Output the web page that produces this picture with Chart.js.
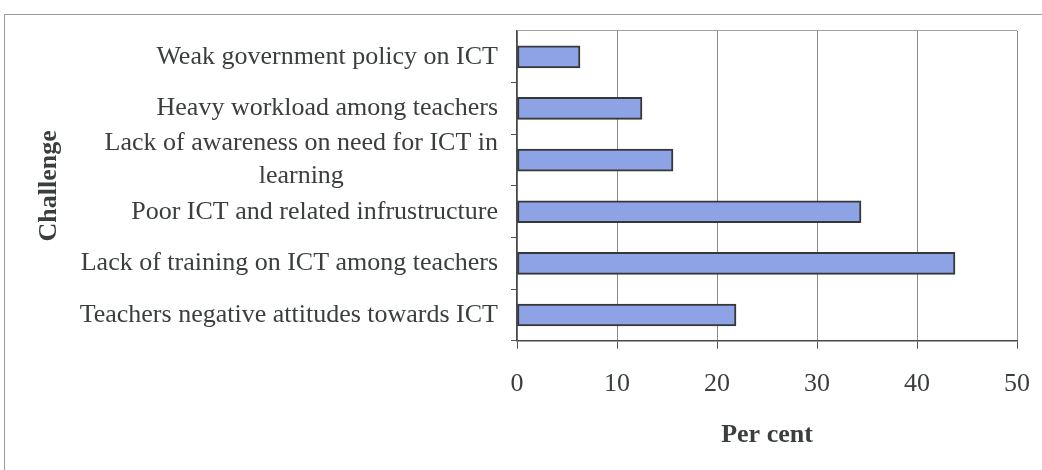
<!DOCTYPE html>
<html>
<head>
<meta charset="utf-8">
<title>Challenges</title>
<script src="https://cdn.jsdelivr.net/npm/chart.js@4.4.1/dist/chart.umd.min.js"></script>
<style>
  body { margin: 0; background: #fff; }
  canvas { display: block; }
</style>
</head>
<body>
<canvas id="barChart" width="1042" height="470"></canvas>
<script>
// chart data
const challenges = [
  "Weak government policy on ICT",
  "Heavy workload among teachers",
  ["Lack of awareness on need for ICT in", "learning"],
  "Poor ICT and related infrustructure",
  "Lack of training on ICT among teachers",
  "Teachers negative attitudes towards ICT",
];
const percents = [6.3, 12.5, 15.6, 34.4, 43.8, 21.9];
const xTicks = [0, 10, 20, 30, 40, 50];

const textColor = "#3a3e3e";
const serif = '"Liberation Serif", "Times New Roman", serif';

// white page with the grey frame round the chart
const frame = {
  id: "frame",
  beforeDraw(chart) {
    const ctx = chart.ctx;
    ctx.save();
    ctx.fillStyle = "#fff";
    ctx.fillRect(0, 0, chart.width, chart.height);
    ctx.strokeStyle = "#9a9a9a";
    ctx.lineWidth = 1;
    ctx.strokeRect(4.5, 14.5, chart.width + 20, chart.height + 20);
    ctx.restore();
  },
};

// category labels: block right aligned, each line centred (like Excel)
const centeredLabels = {
  id: "centeredLabels",
  afterDraw(chart) {
    const ctx = chart.ctx;
    const y = chart.scales.y;
    const lineH = 33;
    ctx.save();
    ctx.font = "26px " + serif;
    ctx.fillStyle = textColor;
    ctx.textAlign = "center";
    ctx.textBaseline = "middle";
    challenges.forEach((lab, i) => {
      const lines = [].concat(lab);
      const w = Math.max(...lines.map((l) => ctx.measureText(l).width));
      const cx = y.right - 19 - w / 2;
      const cy = y.getPixelForValue(i);
      lines.forEach((l, j) => {
        ctx.fillText(l, cx, cy + (j - (lines.length - 1) / 2) * lineH);
      });
    });
    ctx.restore();
  },
};

new Chart(document.getElementById("barChart"), {
  type: "bar",
  data: {
    labels: challenges,
    datasets: [
      {
        data: percents,
        backgroundColor: "#8ea2e6",
        borderColor: "#363838",
        borderWidth: 2,
        borderSkipped: false,
        barThickness: 22,
      },
    ],
  },
  options: {
    indexAxis: "y",
    responsive: false,
    animation: false,
    layout: { padding: { left: 30, top: 31, right: 25, bottom: 19 } },
    plugins: {
      legend: { display: false },
      tooltip: { enabled: false },
    },
    scales: {
      x: {
        min: 0,
        max: 50,
        afterBuildTicks: (scale) => {
          scale.ticks = xTicks.map((v) => ({ value: v }));
        },
        grid: { color: "#8a8a8a", tickColor: "#555", tickLength: 8, lineWidth: 1 },
        border: { color: "#4a4a4a", width: 1.5 },
        ticks: {
          color: textColor,
          font: { family: serif, size: 26, lineHeight: "47px" },
          padding: 12,
        },
        title: {
          display: true,
          text: "Per cent",
          color: textColor,
          font: { family: serif, size: 26, weight: "bold" },
          padding: { top: 0, bottom: 0 },
        },
      },
      y: {
        afterFit: (scale) => {
          scale.width = 487;
        },
        grid: {
          color: (c) => (c.index === 0 ? "#a0a0a0" : "transparent"),
          tickColor: (c) => (c.index === 0 ? "transparent" : "#555"),
          tickLength: 6,
        },
        border: { color: "#4a4a4a", width: 1.5 },
        ticks: { display: false, autoSkip: false },
        title: {
          display: true,
          text: "Challenge",
          color: textColor,
          font: { family: serif, size: 26, weight: "bold" },
          padding: { top: 4, bottom: 0 },
        },
      },
    },
  },
  plugins: [frame, centeredLabels],
});
</script>
</body>
</html>
